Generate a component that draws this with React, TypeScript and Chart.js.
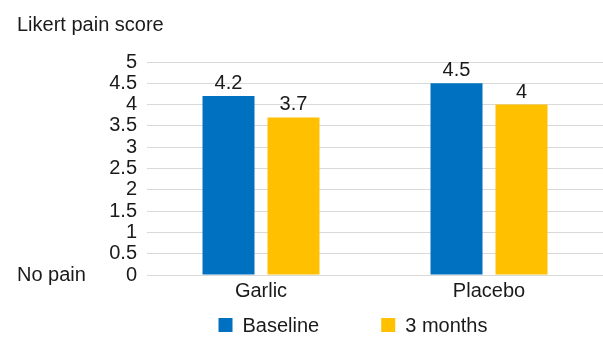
import React, { useEffect, useRef } from "react";
import { Chart, registerables } from "chart.js";

Chart.register(...registerables);

const categories = ["Garlic", "Placebo"];
const seriesNames = ["Baseline", "3 months"];
const baseline = [4.2, 4.5];
const threeMonths = [3.7, 4];
const seriesColors = ["#0070C0", "#FFC000"];
const yTitle = "Likert pain score";
const zeroLabel = "No pain";

const FONT = "'Liberation Sans', Arial, Helvetica, sans-serif";
const FS = 20;
const TEXT = "#1a1a1a";

const extrasPlugin = {
  id: "extras",
  afterDraw(chart: any) {
    const ctx = chart.ctx;
    ctx.save();
    ctx.font = `${FS}px ${FONT}`;
    ctx.fillStyle = TEXT;
    // data labels
    chart.data.datasets.forEach((ds: any, di: number) => {
      const meta = chart.getDatasetMeta(di);
      meta.data.forEach((bar: any, i: number) => {
        ctx.textAlign = "center";
        ctx.textBaseline = "alphabetic";
        ctx.fillText(String(ds.data[i]), bar.x, bar.y - 7);
      });
    });
    // y title
    ctx.textAlign = "left";
    ctx.textBaseline = "alphabetic";
    ctx.fillText(yTitle, 17, 31);
    // no pain
    const y0 = chart.scales.y.getPixelForValue(0);
    ctx.textBaseline = "middle";
    ctx.fillText(zeroLabel, 17, y0);
    // legend
    const box = 14;
    const gapText = 10;
    const gapItem = 62;
    const widths = chart.data.datasets.map(
      (ds: any) => box + gapText + ctx.measureText(ds.label).width
    );
    const total = widths.reduce((a: number, b: number) => a + b, 0) + gapItem * (widths.length - 1);
    let x = 353 - total / 2;
    const ly = 325;
    chart.data.datasets.forEach((ds: any, di: number) => {
      ctx.fillStyle = ds.backgroundColor;
      ctx.fillRect(x, ly - box / 2, box, box);
      ctx.fillStyle = TEXT;
      ctx.textAlign = "left";
      ctx.textBaseline = "middle";
      ctx.fillText(ds.label, x + box + gapText, ly + 1);
      x += widths[di] + gapItem;
    });
    ctx.restore();
  },
};

export default function App() {
  const ref = useRef<HTMLCanvasElement>(null);
  useEffect(() => {
    if (!ref.current) return;
    const chart = new Chart(ref.current, {
      type: "bar",
      data: {
        labels: categories,
        datasets: [
          {
            label: seriesNames[0],
            data: baseline,
            backgroundColor: seriesColors[0],
            categoryPercentage: 0.57,
            barPercentage: 0.8,
          },
          {
            label: seriesNames[1],
            data: threeMonths,
            backgroundColor: seriesColors[1],
            categoryPercentage: 0.57,
            barPercentage: 0.8,
          },
        ],
      },
      options: {
        animation: false,
        responsive: false,
        layout: { padding: { top: 62, left: 0, right: 0, bottom: 31 } },
        plugins: {
          legend: { display: false },
          tooltip: { enabled: false },
          title: { display: false },
        },
        scales: {
          x: {
            grid: { display: false, drawTicks: false },
            border: { display: false },
            ticks: {
              padding: 4,
              color: TEXT,
              font: { family: FONT, size: FS },
            },
          },
          y: {
            min: 0,
            max: 5,
            afterFit: (s: any) => {
              s.width = 147;
            },
            grid: { color: "#d9d9d9", lineWidth: 1, drawTicks: false },
            border: { display: false },
            ticks: {
              stepSize: 0.5,
              autoSkip: false,
              padding: 10,
              color: TEXT,
              font: { family: FONT, size: FS },
              callback: (v: any) => String(Number(v)),
            },
          },
        },
      },
      plugins: [extrasPlugin],
    });
    return () => chart.destroy();
  }, []);
  return (
    <div style={{ position: "absolute", left: 0, top: 0, width: 603, height: 338, background: "#fff" }}>
      <canvas ref={ref} width={603} height={338} style={{ display: "block" }} />
    </div>
  );
}
